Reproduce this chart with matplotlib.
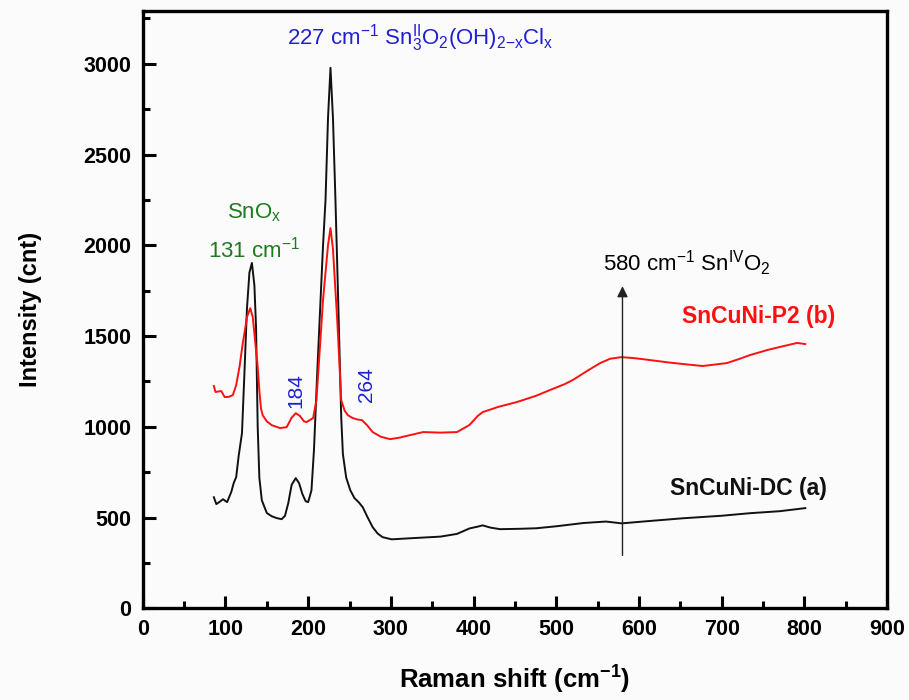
import matplotlib
matplotlib.use("Agg")
import matplotlib.pyplot as plt
from matplotlib.ticker import MultipleLocator

plt.rcParams['font.family'] = ['Liberation Sans', 'DejaVu Sans']
plt.rcParams['mathtext.fontset'] = 'custom'
plt.rcParams['mathtext.rm'] = 'Liberation Sans'
plt.rcParams['mathtext.it'] = 'Liberation Sans:italic'
plt.rcParams['mathtext.bf'] = 'Liberation Sans:bold'

# SnCuNi-DC (a)
dc_x = [86, 89, 94, 97, 102, 107, 110, 113, 116, 120, 123, 126, 129, 132, 135, 137, 139, 141,
        144, 150, 156, 162, 168, 172, 176, 180, 185, 189, 193, 197, 200, 204, 207, 211, 215,
        218, 221, 224, 227, 230, 233, 236, 238, 240, 242, 246, 251, 256, 261, 266, 272, 278,
        284, 290, 301, 320, 340, 360, 380, 395, 405, 411, 420, 432, 455, 476, 500, 533, 560,
        579, 610, 653, 700, 734, 770, 801]
dc_y = [612, 574, 590, 601, 585, 640, 690, 723, 840, 965, 1300, 1650, 1850, 1903, 1780, 1550,
        1000, 720, 595, 525, 507, 497, 491, 510, 580, 680, 717, 690, 630, 590, 585, 650, 870,
        1300, 1700, 2000, 2250, 2700, 2978, 2700, 2250, 1750, 1400, 1050, 850, 720, 650, 607,
        585, 557, 500, 447, 412, 392, 380, 385, 390, 395, 410, 440, 450, 457, 445, 436, 438,
        441, 452, 470, 478, 468, 480, 496, 510, 524, 535, 552]

# SnCuNi-P2 (b)
p2_x = [86, 88, 92, 95, 99, 104, 109, 113, 117, 121, 123, 126, 130, 133, 135, 137, 139, 141,
        143, 145, 150, 156, 166, 174, 180, 185, 190, 195, 198, 203, 206, 210, 214, 218, 221,
        224, 227, 230, 233, 235, 237, 240, 244, 248, 254, 260, 265, 271, 278, 288, 299, 310,
        323, 339, 360, 380, 395, 405, 411, 430, 452, 475, 492, 510, 520, 538, 553, 565, 579,
        595, 613, 635, 653, 677, 706, 720, 734, 755, 775, 791, 801]
p2_y = [1225, 1192, 1195, 1197, 1164, 1165, 1175, 1230, 1330, 1462, 1516, 1605, 1654, 1605,
        1516, 1420, 1330, 1200, 1100, 1064, 1030, 1009, 993, 998, 1050, 1075, 1060, 1030, 1026,
        1040, 1048, 1147, 1423, 1700, 1850, 2000, 2095, 1980, 1750, 1600, 1423, 1147, 1090,
        1064, 1048, 1040, 1037, 1010, 971, 945, 932, 940, 954, 971, 968, 971, 1010, 1060, 1081,
        1110, 1136, 1170, 1202, 1235, 1258, 1310, 1351, 1375, 1384, 1378, 1368, 1355, 1346,
        1335, 1351, 1372, 1395, 1423, 1445, 1462, 1456]

x_ticks = [0, 100, 200, 300, 400, 500, 600, 700, 800, 900]
y_ticks = [0, 500, 1000, 1500, 2000, 2500, 3000]

fig = plt.figure(figsize=(9.09, 7.0), dpi=100)
fig.patch.set_facecolor('#fbfbfb')
ax = fig.add_axes([0.157, 0.131, 0.819, 0.853])
ax.set_facecolor('#fbfbfb')

ax.plot(dc_x, dc_y, color='#111111', lw=1.4)
ax.plot(p2_x, p2_y, color='#ff1010', lw=1.4)

ax.set_xlim(0, 900)
ax.set_ylim(0, 3290)
ax.set_xticks(x_ticks)
ax.set_yticks(y_ticks)
ax.xaxis.set_minor_locator(MultipleLocator(50))
ax.yaxis.set_minor_locator(MultipleLocator(250))
ax.tick_params(which='both', direction='in', width=2.2, top=False, right=False,
               labelsize=15.5, pad=8)
ax.tick_params(which='major', length=9)
ax.tick_params(which='minor', length=5)
for lab in ax.get_xticklabels() + ax.get_yticklabels():
    lab.set_fontweight('bold')
for s in ax.spines.values():
    s.set_linewidth(2.4)

ax.set_xlabel(r'Raman shift (cm$^{\mathbf{-1}}$)', fontsize=18.5, fontweight='bold', labelpad=17)
ax.set_ylabel('Intensity (cnt)', fontsize=17, fontweight='bold', labelpad=30)

green = '#1e7a1e'
blue = '#2020d0'
ax.text(135, 2180, r'SnO$_{\mathrm{x}}$', color=green, fontsize=16, ha='center', va='center')
ax.text(135, 1975, r'131 cm$^{-1}$', color=green, fontsize=16, ha='center', va='center')
ax.text(174, 3140, r'227 cm$^{-1}$ Sn$^{\mathrm{II}}_{3}$O$_{2}$(OH)$_{2\mathrm{-x}}$Cl$_{\mathrm{x}}$',
        color=blue, fontsize=16, ha='left', va='center')
ax.text(185, 1200, '184', color=blue, fontsize=15, rotation=90, ha='center', va='center')
ax.text(271, 1230, '264', color=blue, fontsize=15, rotation=90, ha='center', va='center')

ax.annotate('', xy=(580, 1790), xytext=(580, 276),
            arrowprops=dict(arrowstyle='-|>', color='#222222', lw=1.0, mutation_scale=16))
ax.text(557, 1900, r'580 cm$^{-1}$ Sn$^{\mathrm{IV}}$O$_{2}$', color='black', fontsize=16,
        ha='left', va='center')

ax.text(652, 1610, 'SnCuNi-P2 (b)', color='#ff1010', fontsize=16.5, fontweight='bold',
        ha='left', va='center')
ax.text(638, 660, 'SnCuNi-DC (a)', color='#111111', fontsize=16.5, fontweight='bold',
        ha='left', va='center')

fig.savefig('out.png', dpi=100, facecolor=fig.get_facecolor())
